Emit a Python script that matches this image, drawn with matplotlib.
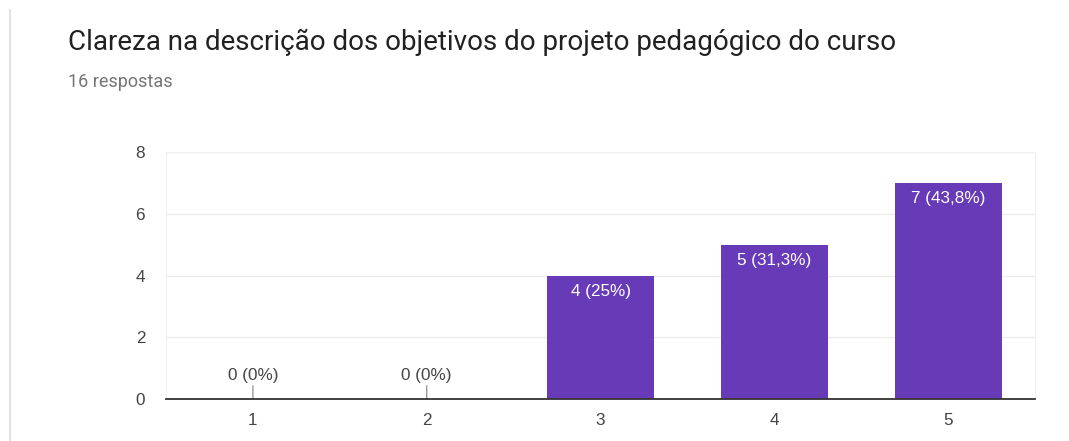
import matplotlib.pyplot as plt
from matplotlib.lines import Line2D

plt.rcParams['font.family'] = ['Liberation Sans', 'DejaVu Sans']

# respostas por nota
notas = ['1', '2', '3', '4', '5']
contagem = [0, 0, 4, 5, 7]
rotulos = ['0 (0%)', '0 (0%)', '4 (25%)', '5 (31,3%)', '7 (43,8%)']
titulo = 'Clareza na descrição dos objetivos do projeto pedagógico do curso'
subtitulo = '16 respostas'
yticks = [0, 2, 4, 6, 8]

roxo = '#673ab7'
fs = 12.3

fig = plt.figure(figsize=(10.69, 4.41), dpi=100)
ax = fig.add_axes([166 / 1069, 1 - 399 / 441, (1035 - 166) / 1069, (399 - 152) / 441])

x = list(range(1, len(notas) + 1))
bars = ax.bar(x, contagem, width=0.615, color=roxo, zorder=3)

for xi, v, txt in zip(x, contagem, rotulos):
    if v > 0:
        ax.annotate(txt, (xi, v), xytext=(0, -6), textcoords='offset points',
                    ha='center', va='top', color='white', fontsize=fs, zorder=4)
    else:
        # rótulo com haste para barras vazias
        ax.annotate(txt, (xi, 0), xytext=(0, 11.5), textcoords='offset points',
                    ha='center', va='bottom', color='#444444', fontsize=fs,
                    arrowprops=dict(arrowstyle='-', color='#999999', lw=1,
                                    shrinkA=0, shrinkB=0), zorder=4)

ax.set_xlim(0.5, 5.5)
ax.set_ylim(0, 8)
ax.set_xticks(x)
ax.set_xticklabels(notas)
ax.set_yticks(yticks)
ax.tick_params(axis='both', length=0, labelsize=fs, labelcolor='#444444')
ax.tick_params(axis='x', pad=10)
ax.tick_params(axis='y', pad=15)
ax.grid(axis='y', color='#ebebeb', lw=1, zorder=0)

for s in ['left', 'right', 'top']:
    ax.spines[s].set_color('#f0f0f0')
ax.spines['bottom'].set_color('#333333')
ax.spines['bottom'].set_linewidth(1.3)
ax.spines['bottom'].set_zorder(5)

fig.text(68 / 1069, 1 - 42 / 441, titulo, fontsize=20, color='#212121', va='center', ha='left',
         family=['Roboto', 'DejaVu Sans'])
fig.text(68 / 1069, 1 - 82 / 441, subtitulo, fontsize=13, color='#757575', va='center', ha='left',
         family=['Roboto', 'DejaVu Sans'])

# borda esquerda do cartão
fig.add_artist(Line2D([10 / 1069, 10 / 1069], [0, 1 - 10 / 441], transform=fig.transFigure,
                      color='#dadce0', lw=1.2))

fig.savefig('out.png', dpi=100)
